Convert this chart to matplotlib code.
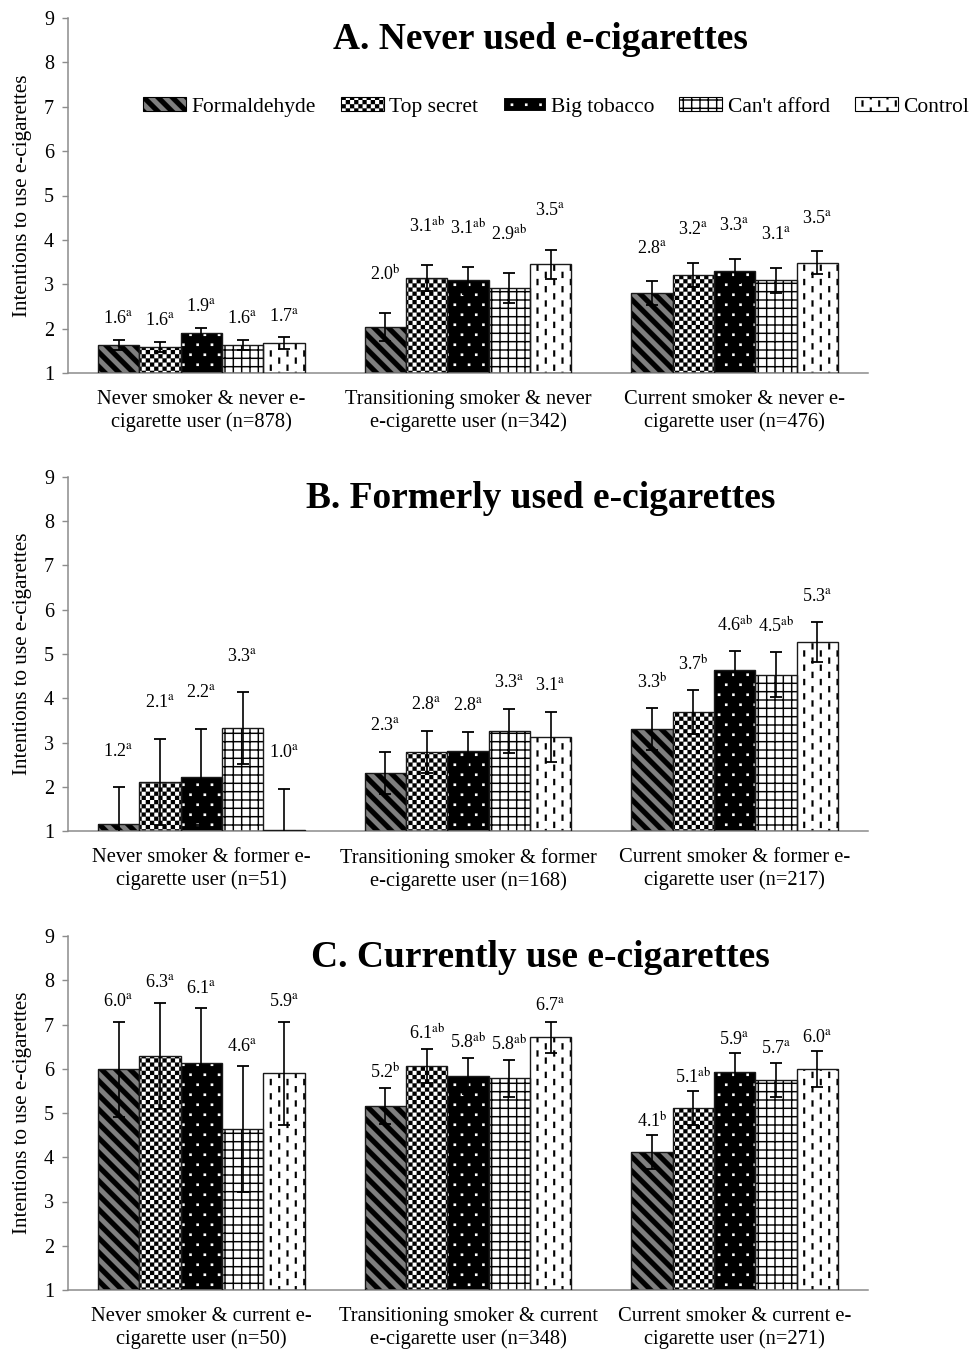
import warnings
import numpy as np
import matplotlib
matplotlib.use("Agg")
import matplotlib.pyplot as plt
import matplotlib.hatch as mhatch
from matplotlib.path import Path
from matplotlib.patches import Patch

warnings.filterwarnings("ignore")

# ---- data ----
conditions = ["Formaldehyde", "Top secret", "Big tobacco", "Can't afford", "Control"]

panel_titles = ["A. Never used e-cigarettes",
                "B. Formerly used e-cigarettes",
                "C. Currently use e-cigarettes"]

groups_A = ["Never smoker & never e-\ncigarette user (n=878)",
            "Transitioning smoker & never\ne-cigarette user (n=342)",
            "Current smoker & never e-\ncigarette user (n=476)"]
groups_B = ["Never smoker & former e-\ncigarette user (n=51)",
            "Transitioning smoker & former\ne-cigarette user (n=168)",
            "Current smoker & former e-\ncigarette user (n=217)"]
groups_C = ["Never smoker & current e-\ncigarette user (n=50)",
            "Transitioning smoker & current\ne-cigarette user (n=348)",
            "Current smoker & current e-\ncigarette user (n=271)"]

# means, one row per group, one column per condition
means_A = [[1.63, 1.59, 1.90, 1.63, 1.68],
           [2.04, 3.14, 3.09, 2.91, 3.45],
           [2.80, 3.21, 3.30, 3.09, 3.48]]
means_B = [[1.16, 2.11, 2.22, 3.33, 1.02],
           [2.31, 2.79, 2.81, 3.26, 3.12],
           [3.30, 3.69, 4.64, 4.53, 5.27]]
means_C = [[5.99, 6.29, 6.13, 4.64, 5.90],
           [5.16, 6.06, 5.84, 5.78, 6.71],
           [4.12, 5.11, 5.93, 5.75, 5.99]]

err_A = [[0.12, 0.11, 0.12, 0.12, 0.13],
         [0.32, 0.30, 0.31, 0.34, 0.33],
         [0.27, 0.28, 0.27, 0.28, 0.26]]
err_B = [[0.83, 0.97, 1.09, 0.81, 0.93],
         [0.48, 0.47, 0.43, 0.50, 0.57],
         [0.48, 0.50, 0.43, 0.51, 0.45]]
err_C = [[1.07, 1.20, 1.24, 1.42, 1.16],
         [0.40, 0.39, 0.40, 0.42, 0.35],
         [0.38, 0.39, 0.42, 0.38, 0.41]]

labels_A = [["1.6", "1.6", "1.9", "1.6", "1.7"],
            ["2.0", "3.1", "3.1", "2.9", "3.5"],
            ["2.8", "3.2", "3.3", "3.1", "3.5"]]
labels_B = [["1.2", "2.1", "2.2", "3.3", "1.0"],
            ["2.3", "2.8", "2.8", "3.3", "3.1"],
            ["3.3", "3.7", "4.6", "4.5", "5.3"]]
labels_C = [["6.0", "6.3", "6.1", "4.6", "5.9"],
            ["5.2", "6.1", "5.8", "5.8", "6.7"],
            ["4.1", "5.1", "5.9", "5.7", "6.0"]]

sup_A = [["a", "a", "a", "a", "a"],
         ["b", "ab", "ab", "ab", "a"],
         ["a", "a", "a", "a", "a"]]
sup_B = [["a", "a", "a", "a", "a"],
         ["a", "a", "a", "a", "a"],
         ["b", "b", "ab", "ab", "a"]]
sup_C = [["a", "a", "a", "a", "a"],
         ["b", "ab", "ab", "ab", "a"],
         ["b", "ab", "a", "a", "a"]]


# ---- custom fill patterns (tiles of filled polygons) ----
class TileHatch(mhatch.HatchPatternBase):
    key = None

    def __init__(self, hatch, density):
        self.polys = self.make_polys() if (hatch and self.key in hatch) else []
        self.num_vertices = 5 * len(self.polys)

    def make_polys(self):
        return []

    def set_vertices_and_codes(self, vertices, codes):
        for i, poly in enumerate(self.polys):
            vertices[5 * i:5 * i + 4] = poly
            vertices[5 * i + 4] = poly[0]
            codes[5 * i] = Path.MOVETO
            codes[5 * i + 1:5 * i + 4] = Path.LINETO
            codes[5 * i + 4] = Path.CLOSEPOLY


def rect(x, y, w, h):
    return [(x, y), (x + w, y), (x + w, y + h), (x, y + h)]


class Stripes(TileHatch):
    key = "w"

    def make_polys(self):
        n, w = 7, 0.5 / 7
        out = []
        for k in range(-1, 2 * n + 1):
            c = k / n
            out.append([(c - 2, 2), (c + 2, -2), (c + w + 2, -2), (c + w - 2, 2)])
        return out


class Checker(TileHatch):
    key = "c"

    def make_polys(self):
        n = 24
        s = 1.0 / n
        return [rect(i * s, j * s, s, s) for i in range(n) for j in range(n)
                if (i + j) % 2 == 0]


class Dots(TileHatch):
    key = "b"

    def make_polys(self):
        nr, nc, s = 10, 7, 0.025
        out = []
        for r in range(nr):
            shift = 0.5 if r % 2 else 0.0
            for c in range(nc):
                out.append(rect((c + 0.25 + shift) / nc, (r + 0.4) / nr, s, s))
        return out


class Grid(TileHatch):
    key = "g"

    def make_polys(self):
        n, lw = 12, 0.013
        out = []
        for k in range(n + 1):
            p = k / n - lw / 2
            out.append(rect(p, -0.1, lw, 1.2))
            out.append(rect(-0.1, p, 1.2, lw))
        return out


class Dashes(TileHatch):
    key = "d"

    def make_polys(self):
        nc, nr, L, w = 12, 7, 0.062, 0.02
        out = []
        for c in range(nc):
            half = 0.5 if c % 2 else 0.0
            for r in range(nr):
                out.append(rect((c + 0.5) / nc - w / 2, (r + 0.04 + half) / nr, w, L))
        return out


mhatch._hatch_types.extend([Stripes, Checker, Dots, Grid, Dashes])

# ---- style ----
plt.rcParams["font.family"] = ["Liberation Serif", "DejaVu Serif"]
plt.rcParams["mathtext.fontset"] = "stix"
plt.rcParams["hatch.linewidth"] = 0.1

FACE = ["#7f7f7f", "white", "black", "white", "white"]
HATCH_COLOR = ["black", "black", "white", "black", "black"]
HATCH = ["w", "c", "b", "g", "d"]
AXIS_GRAY = "#8c8c8c"
BAR_W = 0.155
# vertical gap (px) between error cap and label centre, per panel and group
LABEL_GAP = [[21, 39, 33], [36, 26, 26], [20, 16, 14]]

panels = [
    (groups_A, means_A, err_A, labels_A, sup_A),
    (groups_B, means_B, err_B, labels_B, sup_B),
    (groups_C, means_C, err_C, labels_C, sup_C),
]

fig = plt.figure(figsize=(9.8, 13.5), dpi=100)
W, H = 980.0, 1350.0
ax_boxes = [(18, 373), (477, 831), (936, 1290)]

for pi, (gnames, means, errs, labs, sups) in enumerate(panels):
    top, bot = ax_boxes[pi]
    ax = fig.add_axes([68 / W, 1 - bot / H, 800 / W, (bot - top) / H])
    means = np.array(means)
    errs = np.array(errs)
    xg = np.arange(len(gnames))

    for s in range(len(conditions)):
        x = xg + (s - 2) * BAR_W
        ax.bar(x, means[:, s] - 1, bottom=1, width=BAR_W, color=FACE[s],
               edgecolor=HATCH_COLOR[s], hatch=HATCH[s], linewidth=0, zorder=2)
        ax.bar(x, means[:, s] - 1, bottom=1, width=BAR_W, fill=False,
               edgecolor="#1a1a1a", linewidth=1.0, zorder=3)
        ax.errorbar(x, means[:, s], yerr=errs[:, s], fmt="none", ecolor="black",
                    elinewidth=1.2, capsize=4.3, capthick=1.3, zorder=4)
        for g in range(len(gnames)):
            ax.annotate(labs[g][s] + r"$^{\mathrm{%s}}$" % sups[g][s],
                        (x[g], means[g, s] + errs[g, s]),
                        xytext=(0, LABEL_GAP[pi][g] * 0.72), textcoords="offset points",
                        ha="center", va="center", fontsize=13, zorder=5,
                        annotation_clip=False)

    ax.set_xlim(-0.5, 2.5)
    ax.set_ylim(1, 9)
    ax.set_yticks(range(1, 10))
    ax.set_xticks(xg)
    ax.set_xticklabels(gnames, fontsize=14.8, linespacing=1.25)
    ax.tick_params(axis="x", length=0, pad=12)
    ax.tick_params(axis="y", length=4, width=1.0, color=AXIS_GRAY, labelsize=14.5, pad=6)
    for side in ["top", "right"]:
        ax.spines[side].set_visible(False)
    for side in ["left", "bottom"]:
        ax.spines[side].set_color(AXIS_GRAY)
        ax.spines[side].set_linewidth(1.1)
    ax.set_ylabel("Intentions to use e-cigarettes", fontsize=15.2)
    ax.yaxis.set_label_coords(-0.045, 0.5)
    ax.text(0.591, 0.94, panel_titles[pi], transform=ax.transAxes,
            ha="center", va="center", fontsize=27, fontweight="bold")

    if pi == 0:
        handles = [Patch(facecolor=FACE[s], edgecolor=HATCH_COLOR[s], hatch=HATCH[s],
                         linewidth=0.8, label=conditions[s])
                   for s in range(len(conditions))]
        ax.legend(handles=handles, loc="center", ncol=5, frameon=False,
                  bbox_to_anchor=(556 / W, 1 - 107 / H), bbox_transform=fig.transFigure,
                  fontsize=15.5, handlelength=2.0, handleheight=0.65,
                  handletextpad=0.25, columnspacing=1.15, borderaxespad=0)

fig.savefig("out.png", dpi=100)
